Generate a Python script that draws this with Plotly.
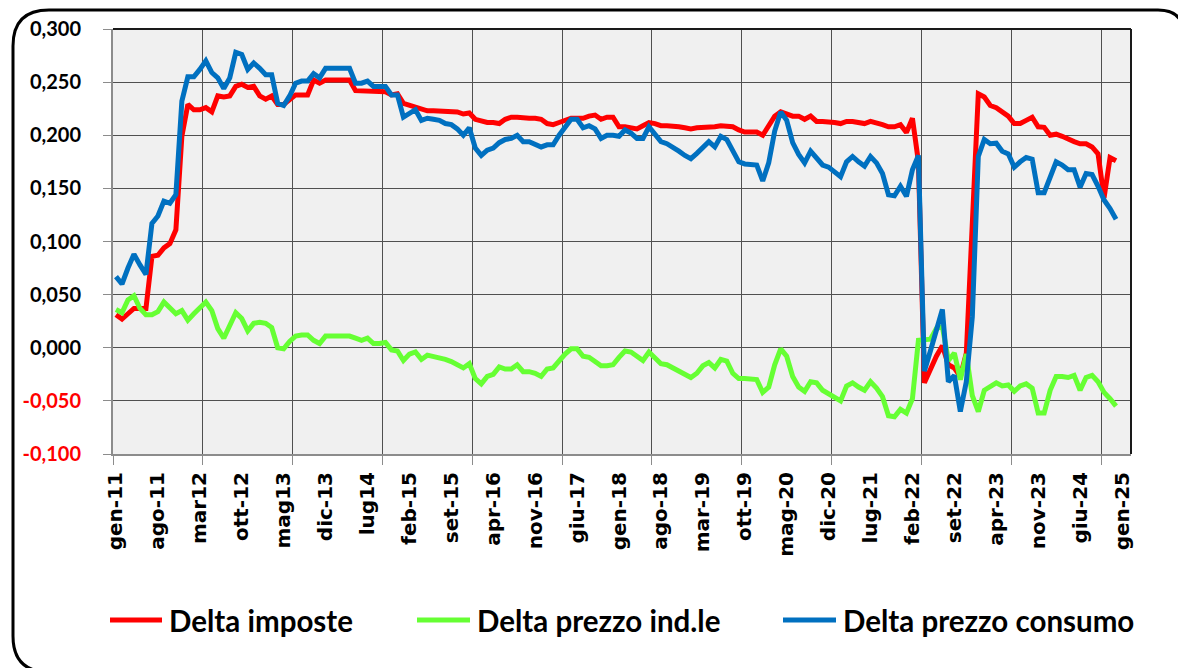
import plotly.graph_objects as go

# ---------------- data (monthly, gen-2011 .. dic-2024) ----------------
delta_imposte = [
    0.031, 0.027, 0.032, 0.037, 0.037, 0.037, 0.086, 0.087, 0.094, 0.098,
    0.111, 0.199, 0.229, 0.224, 0.224, 0.226, 0.222, 0.237, 0.236, 0.237,
    0.246, 0.248, 0.245, 0.246, 0.237, 0.234, 0.237, 0.229, 0.229, 0.233,
    0.238, 0.238, 0.238, 0.252, 0.249, 0.252, 0.252, 0.252, 0.252, 0.252,
    0.242, 0.242, 0.242, 0.242, 0.242, 0.241, 0.238, 0.239, 0.230, 0.228,
    0.227, 0.224, 0.223, 0.223, 0.223, 0.222, 0.223, 0.222, 0.220, 0.221,
    0.215, 0.213, 0.212, 0.212, 0.211, 0.215, 0.217, 0.217, 0.216, 0.216,
    0.216, 0.215, 0.211, 0.210, 0.212, 0.214, 0.216, 0.216, 0.216, 0.218,
    0.219, 0.215, 0.217, 0.217, 0.208, 0.208, 0.207, 0.206, 0.209, 0.212,
    0.211, 0.209, 0.209, 0.209, 0.208, 0.207, 0.206, 0.207, 0.207, 0.208,
    0.208, 0.209, 0.208, 0.208, 0.205, 0.203, 0.203, 0.203, 0.200, 0.210,
    0.218, 0.222, 0.220, 0.218, 0.218, 0.215, 0.218, 0.213, 0.213, 0.213,
    0.212, 0.211, 0.213, 0.213, 0.212, 0.211, 0.213, 0.212, 0.210, 0.208,
    0.208, 0.210, 0.2025, 0.216, 0.175, -0.033, -0.019, -0.008, 0.002, -0.016,
    -0.019, -0.027, -0.005, 0.115, 0.239, 0.236, 0.228, 0.226, 0.222, 0.218,
    0.211, 0.211, 0.214, 0.217, 0.208, 0.2075, 0.200, 0.201, 0.199, 0.196,
    0.194, 0.192, 0.192, 0.189, 0.1825, 0.141, 0.179, 0.176,
]

delta_prezzo_indle = [
    0.036, 0.033, 0.045, 0.049, 0.037, 0.031, 0.031, 0.034, 0.043, 0.037,
    0.032, 0.035, 0.026, 0.032, 0.037, 0.043, 0.035, 0.018, 0.009, 0.021,
    0.033, 0.0275, 0.016, 0.023, 0.024, 0.023, 0.019, 0.000, -0.001, 0.006,
    0.011, 0.012, 0.012, 0.007, 0.004, 0.011, 0.011, 0.011, 0.011, 0.011,
    0.009, 0.007, 0.009, 0.004, 0.004, 0.005, -0.002, -0.003, -0.012, -0.006,
    -0.004, -0.011, -0.007, -0.008, -0.009, -0.011, -0.013, -0.016, -0.019, -0.015,
    -0.029, -0.034, -0.027, -0.025, -0.018, -0.020, -0.020, -0.016, -0.0225, -0.0225,
    -0.024, -0.027, -0.020, -0.019, -0.012, -0.006, -0.001, -0.001, -0.008, -0.009,
    -0.013, -0.017, -0.017, -0.016, -0.009, -0.003, -0.004, -0.008, -0.012, -0.004,
    -0.009, -0.015, -0.016, -0.019, -0.022, -0.026, -0.028, -0.024, -0.017, -0.014,
    -0.019, -0.011, -0.0125, -0.024, -0.029, -0.029, -0.030, -0.030, -0.042, -0.037,
    -0.016, -0.001, -0.008, -0.027, -0.037, -0.041, -0.032, -0.033, -0.040, -0.043,
    -0.046, -0.050, -0.036, -0.033, -0.037, -0.040, -0.032, -0.038, -0.046, -0.064,
    -0.065, -0.058, -0.0615, -0.048, 0.007, 0.008, 0.008, 0.018, 0.020, -0.012,
    -0.005, -0.030, -0.006, -0.045, -0.060, -0.040, -0.037, -0.033, -0.036, -0.035,
    -0.041, -0.036, -0.034, -0.038, -0.0615, -0.0615, -0.040, -0.027, -0.027, -0.028,
    -0.026, -0.040, -0.028, -0.026, -0.032, -0.042, -0.048, -0.055,
]

delta_prezzo_consumo = [
    0.067, 0.060, 0.075, 0.088, 0.078, 0.069, 0.117, 0.124, 0.138, 0.136,
    0.144, 0.232, 0.255, 0.255, 0.262, 0.270, 0.259, 0.254, 0.244, 0.254,
    0.278, 0.276, 0.262, 0.268, 0.263, 0.257, 0.257, 0.230, 0.228, 0.237,
    0.249, 0.251, 0.251, 0.258, 0.254, 0.263, 0.263, 0.263, 0.263, 0.263,
    0.249, 0.249, 0.251, 0.246, 0.246, 0.246, 0.238, 0.238, 0.217, 0.221,
    0.224, 0.214, 0.216, 0.215, 0.214, 0.211, 0.210, 0.206, 0.200, 0.207,
    0.188, 0.181, 0.186, 0.188, 0.193, 0.196, 0.197, 0.200, 0.194, 0.194,
    0.192, 0.189, 0.191, 0.191, 0.200, 0.208, 0.215, 0.215, 0.207, 0.209,
    0.206, 0.197, 0.200, 0.200, 0.199, 0.205, 0.202, 0.197, 0.197, 0.208,
    0.201, 0.194, 0.192, 0.189, 0.185, 0.181, 0.178, 0.183, 0.189, 0.194,
    0.189, 0.199, 0.196, 0.185, 0.175, 0.173, 0.172, 0.172, 0.157, 0.174,
    0.204, 0.222, 0.214, 0.193, 0.182, 0.174, 0.185, 0.178, 0.172, 0.170,
    0.166, 0.161, 0.175, 0.180, 0.175, 0.171, 0.180, 0.174, 0.164, 0.144,
    0.143, 0.152, 0.1425, 0.1675, 0.181, -0.022, -0.003, 0.017, 0.036, -0.032,
    -0.026, -0.060, -0.032, 0.029, 0.180, 0.196, 0.192, 0.1925, 0.185, 0.1825,
    0.170, 0.175, 0.179, 0.1775, 0.146, 0.146, 0.161, 0.175, 0.172, 0.1675,
    0.1675, 0.151, 0.164, 0.163, 0.152, 0.139, 0.131, 0.121,
]

x_labels = ["gen-11", "ago-11", "mar12", "ott-12", "mag13", "dic-13", "lug14",
            "feb-15", "set-15", "apr-16", "nov-16", "giu-17", "gen-18", "ago-18",
            "mar-19", "ott-19", "mag-20", "dic-20", "lug-21", "feb-22", "set-22",
            "apr-23", "nov-23", "giu-24", "gen-25"]
label_step_months = 7

y_values = [-0.100, -0.050, 0.000, 0.050, 0.100, 0.150, 0.200, 0.250, 0.300]
y_labels = ["-0,100", "-0,050", "0,000", "0,050", "0,100", "0,150", "0,200", "0,250", "0,300"]

series_names = ["Delta imposte", "Delta prezzo ind.le", "Delta prezzo consumo"]
series_colors = ["#FF0000", "#66FF33", "#0070C0"]

# ---------------- figure ----------------
W, H = 1178, 668
L, R, T, B = 113, 1131, 29, 454   # plot area in pixels


def px(x):
    """pixel x -> paper x"""
    return (x - L) / (R - L)


def py(y):
    """pixel y -> paper y"""
    return (B - y) / (B - T)


fig = go.Figure()
for name, vals, col in zip(series_names,
                           [delta_imposte, delta_prezzo_indle, delta_prezzo_consumo],
                           series_colors):
    fig.add_trace(go.Scatter(x=list(range(len(vals))), y=vals, mode="lines", name=name,
                             line=dict(color=col, width=5), showlegend=False))

ytext = [('<span style="color:#FF0000">%s</span>' % t) if v < 0 else t
         for v, t in zip(y_values, y_labels)]

fig.update_layout(
    width=W, height=H,
    margin=dict(l=L, r=W - R, t=T, b=H - B, autoexpand=False),
    paper_bgcolor="white", plot_bgcolor="#F0F0F0",
    showlegend=False,
    xaxis=dict(
        range=[-0.5, 169.5],
        tickmode="array",
        tickvals=[i * label_step_months for i in range(len(x_labels))],
        ticktext=x_labels,
        tickangle=-90,
        ticks="",
        showgrid=False,
        zeroline=False,
        showline=True, linecolor="#8C8C8C", linewidth=2,
        tickfont=dict(family="DejaVu Sans", size=20, color="black", weight="bold"),
        ticklabelstandoff=8,
        minor=dict(tick0=-0.5, dtick=15, showgrid=True, gridcolor="#505050", gridwidth=1.3,
                   ticks="outside", ticklen=9, tickcolor="#8C8C8C", tickwidth=1.3),
    ),
    yaxis=dict(
        range=[-0.1, 0.3],
        tickmode="array",
        tickvals=y_values,
        ticktext=ytext,
        showgrid=True, gridcolor="#505050", gridwidth=1.3,
        zeroline=False,
        showline=True, linecolor="#8C8C8C", linewidth=2,
        ticks="outside", ticklen=8, tickcolor="#8C8C8C", tickwidth=1.3,
        tickfont=dict(family="Lato", size=20, color="black", weight="bold"),
        ticklabelstandoff=18,
    ),
)

shapes = []
# black top / right border of plot area
shapes.append(dict(type="line", xref="paper", yref="paper", x0=0, x1=1, y0=1, y1=1,
                   line=dict(color="#1A1A1A", width=2)))
shapes.append(dict(type="line", xref="paper", yref="paper", x0=1, x1=1, y0=0, y1=1,
                   line=dict(color="#1A1A1A", width=2)))

# outer frame: left side with rounded corners, top edge and top-right corner
fx0, fx1, fy0, fy1 = 13, 1184, 10, 672
r1, r2 = 36, 26
path = (f"M {px(fx0 + r1)},{py(fy1)} "
        f"Q {px(fx0)},{py(fy1)} {px(fx0)},{py(fy1 - r1)} "
        f"L {px(fx0)},{py(fy0 + r1)} "
        f"Q {px(fx0)},{py(fy0)} {px(fx0 + r1)},{py(fy0)} "
        f"L {px(fx1 - r2)},{py(fy0)} "
        f"Q {px(fx1)},{py(fy0)} {px(fx1)},{py(fy0 + r2)}")
shapes.append(dict(type="path", xref="paper", yref="paper", path=path,
                   line=dict(color="black", width=3), fillcolor="rgba(0,0,0,0)"))

# manual legend
legend_y = 620
legend_items = [(110, 162, 167), (417, 470, 475), (783, 836, 841)]
annotations = []
for (lx0, lx1, tx), name, col in zip(legend_items, series_names, series_colors):
    shapes.append(dict(type="line", xref="paper", yref="paper",
                       x0=px(lx0), x1=px(lx1), y0=py(legend_y), y1=py(legend_y),
                       line=dict(color=col, width=5)))
    annotations.append(dict(xref="paper", yref="paper", x=px(tx), y=py(legend_y),
                            xanchor="left", yanchor="middle", showarrow=False,
                            text=name,
                            font=dict(family="Lato", size=29.5, color="black", weight="bold")))

fig.update_layout(shapes=shapes, annotations=annotations)

# remove the default 8px page margin so the figure fills the window exactly
fig.write_html("out.html",
               config={"displayModeBar": False},
               post_script="document.body.style.margin='0';document.body.style.overflow='hidden';")
